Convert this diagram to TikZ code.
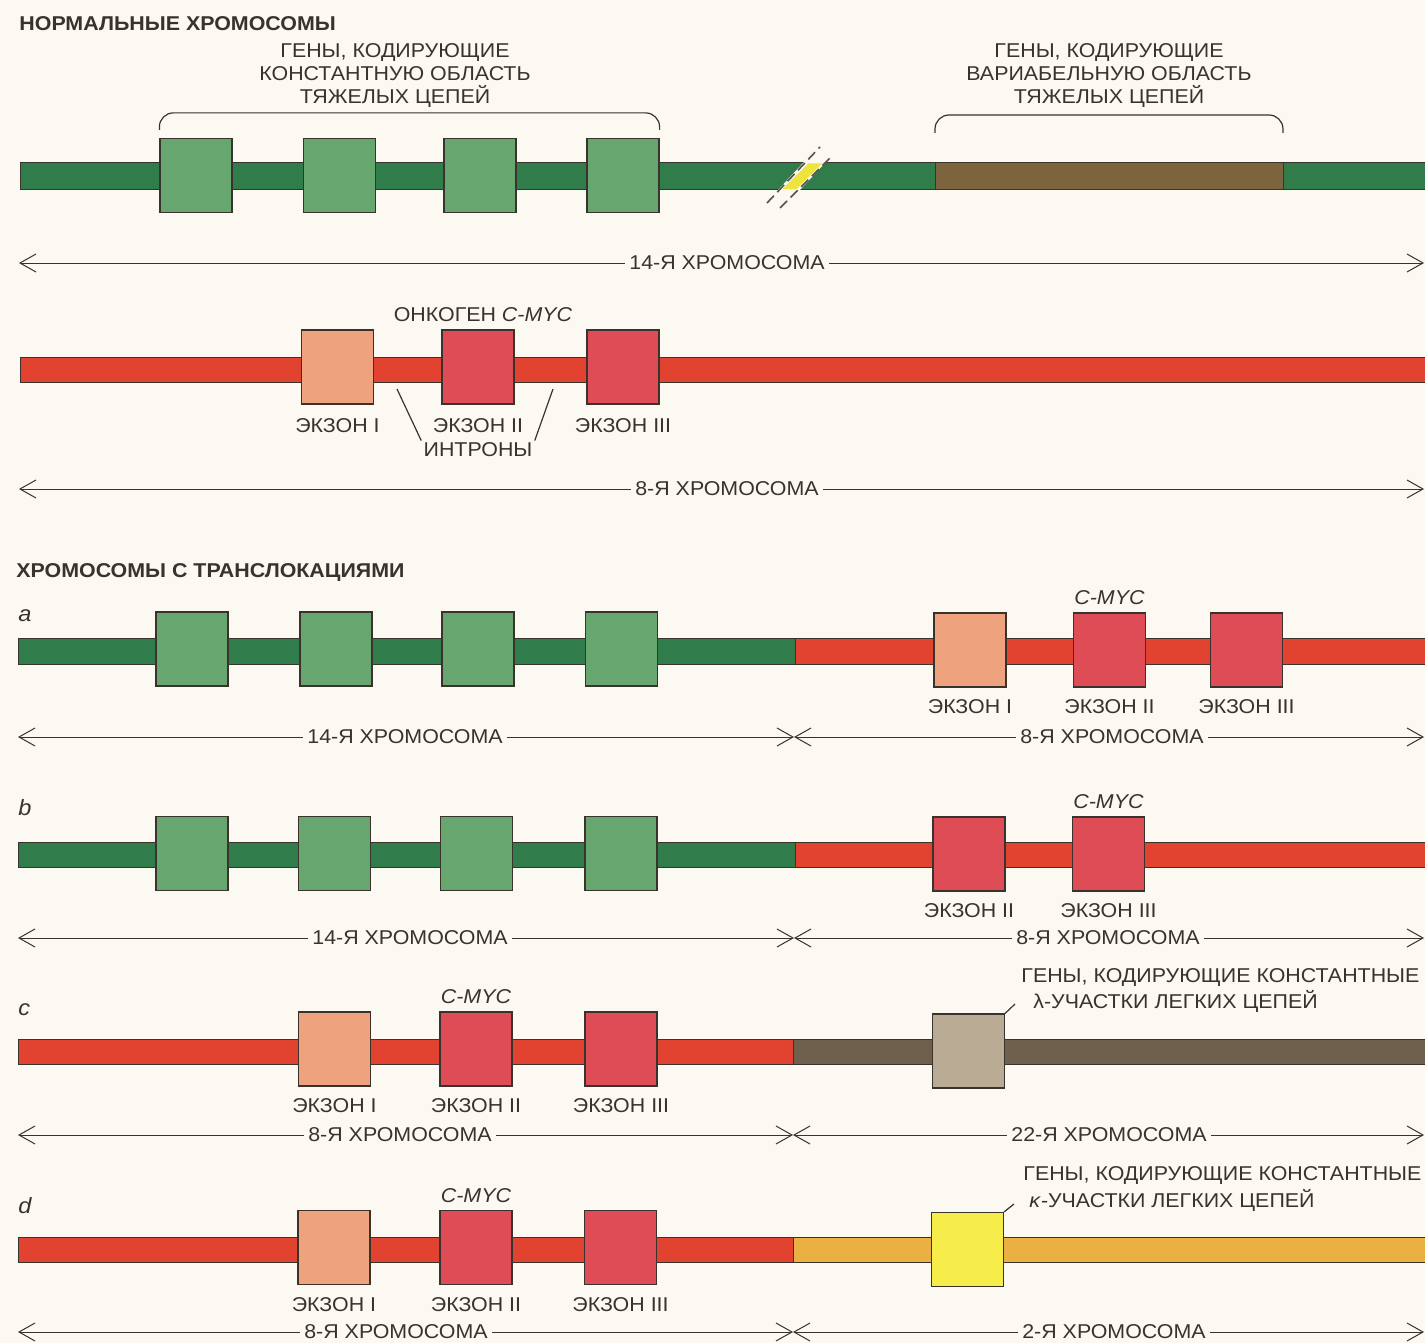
\documentclass[tikz,border=0pt]{standalone}
\usepackage{fontspec}
\setmainfont{Liberation Sans}[FakeStretch=1.07]
\usepackage{xcolor}
\usetikzlibrary{positioning,arrows.meta}

\definecolor{paper}{RGB}{251,249,242}
\definecolor{ink}{RGB}{58,50,44}
\definecolor{chrgreen}{RGB}{48,124,74}
\definecolor{exgreen}{RGB}{104,166,112}
\definecolor{chrred}{RGB}{226,66,48}
\definecolor{exsalmon}{RGB}{238,162,126}
\definecolor{exred}{RGB}{222,76,86}
\definecolor{chrbrown}{RGB}{124,100,62}
\definecolor{chrtaupe}{RGB}{110,96,76}
\definecolor{extaupe}{RGB}{186,172,148}
\definecolor{chrorange}{RGB}{234,176,66}
\definecolor{exyellow}{RGB}{246,236,74}
\definecolor{brkyellow}{RGB}{238,228,62}

\begin{document}
\begin{tikzpicture}[x=0.5pt, y=-0.5pt,
        bar/.style={draw=ink, line width=0.5pt},
        exon/.style={draw=ink, line width=0.6pt, minimum width=36pt, minimum height=37pt, inner sep=0pt},
        txt/.style={font=\fontsize{10}{11.5}\selectfont, text=ink, inner sep=1pt},
        dimlbl/.style={txt, inner xsep=2pt},
        head/.style={font=\fontsize{10}{12}\selectfont\bfseries, text=ink, anchor=base west, inner sep=0pt},
        tag/.style={font=\fontsize{11}{12}\selectfont\itshape, text=ink, anchor=base west, inner sep=0pt},
        dim/.style={-{Straight Barb[length=8pt,width=9pt]}, line width=0.5pt, ink},
        lead/.style={line width=0.6pt, ink}
    ]

    % Paper
    \fill[paper] (0,0) rectangle (1425,1343);
    \useasboundingbox (0,0) rectangle (1425,1343);

    % Titles
    \node[head] (t1) at (19,31) {НОРМАЛЬНЫЕ ХРОМОСОМЫ};
    \node[head] (t2) at (16,577) {ХРОМОСОМЫ С ТРАНСЛОКАЦИЯМИ};

    % Normal 14th chromosome
    \draw[bar, fill=chrgreen] (20,163) rectangle (1432,190);
    \draw[bar, fill=chrbrown] (935,163) rectangle (1283,190);
    \fill[paper] (777,191) -- (799,191) -- (826,162) -- (804,162) -- cycle;
    \fill[brkyellow] (782,189.5) -- (796,189.5) -- (822,163.5) -- (808,163.5) -- cycle;
    \draw[ink!85, line width=0.8pt, dash pattern=on 5pt off 2.5pt] (767,203) -- (820,147);
    \draw[ink!85, line width=0.8pt, dash pattern=on 5pt off 2.5pt] (780,208) -- (831,157);

    \node[exon, fill=exgreen] (g1) at (196,175.5) {};
    \node[exon, fill=exgreen] (g2) at (339.5,175.5) {};
    \node[exon, fill=exgreen] (g3) at (480,175.5) {};
    \node[exon, fill=exgreen] (g4) at (623,175.5) {};

    % Heavy chain braces
    \draw[lead, rounded corners=7pt] ([yshift=4pt]g1.north west) -- ([yshift=12.5pt]g1.north west)
        -- ([yshift=12.5pt]g4.north east) -- ([yshift=4pt]g4.north east);
    \node[txt, align=center] (cl) at (395,76) {ГЕНЫ, КОДИРУЮЩИЕ\\КОНСТАНТНУЮ ОБЛАСТЬ\\ТЯЖЕЛЫХ ЦЕПЕЙ};

    \coordinate (v1) at (935,163);
    \coordinate (v2) at (1283,163);
    \draw[lead, rounded corners=7pt] ([yshift=15pt]v1) -- ([yshift=24pt]v1)
        -- ([yshift=24pt]v2) -- ([yshift=15pt]v2);
    \node[txt, align=center] (vl) at (1109,76) {ГЕНЫ, КОДИРУЮЩИЕ\\ВАРИАБЕЛЬНУЮ ОБЛАСТЬ\\ТЯЖЕЛЫХ ЦЕПЕЙ};

    \node[dimlbl] (n14) at (727,263) {14-Я ХРОМОСОМА};
    \coordinate (n14l) at (19,263);
    \coordinate (n14r) at (1424,263);
    \draw[dim] (n14) -- (n14l);
    \draw[dim] (n14) -- (n14r);

    % Normal 8th chromosome
    \draw[bar, fill=chrred] (20,357) rectangle (1432,382);
    \node[exon, fill=exsalmon] (m1) at (337.5,367) {};
    \node[exon, fill=exred] (m2) at (478,367) {};
    \node[exon, fill=exred] (m3) at (623,367) {};
    \node[txt, above=2.5pt of m2, xshift=2.5pt] (onc) {ОНКОГЕН \textit{C-MYC}};
    \node[txt, below=6pt of m1] (m1l) {ЭКЗОН I};
    \node[txt, below=6pt of m2] (m2l) {ЭКЗОН II};
    \node[txt, below=6pt of m3] (m3l) {ЭКЗОН III};

    \node[txt] (intr) at (478,450) {ИНТРОНЫ};
    \coordinate (in1) at (397,389);
    \coordinate (in2) at (553,389);
    \draw[lead] (in1) -- (intr.north west);
    \draw[lead] (in2) -- (intr.north east);

    \node[dimlbl] (n8) at (727,489) {8-Я ХРОМОСОМА};
    \coordinate (n8l) at (19,489);
    \coordinate (n8r) at (1424,489);
    \draw[dim] (n8) -- (n8l);
    \draw[dim] (n8) -- (n8r);

    % Translocation a
    \node[tag] (ta) at (18,621) {a};
    \draw[bar, fill=chrgreen] (18,638) rectangle (795,664);
    \draw[bar, fill=chrred] (795,638) rectangle (1432,664);
    \node[exon, fill=exgreen] (ag1) at (192,649) {};
    \node[exon, fill=exgreen] (ag2) at (336,649) {};
    \node[exon, fill=exgreen] (ag3) at (478,649) {};
    \node[exon, fill=exgreen] (ag4) at (621.5,649) {};
    \node[exon, fill=exsalmon] (ar1) at (970,650) {};
    \node[exon, fill=exred] (ar2) at (1109.5,650) {};
    \node[exon, fill=exred] (ar3) at (1246.5,650) {};
    \node[txt, above=2.5pt of ar2] (amyc) {\textit{C-MYC}};
    \node[txt, below=5pt of ar1] (ar1l) {ЭКЗОН I};
    \node[txt, below=5pt of ar2] (ar2l) {ЭКЗОН II};
    \node[txt, below=5pt of ar3] (ar3l) {ЭКЗОН III};

    \node[dimlbl] (a14) at (405,737) {14-Я ХРОМОСОМА};
    \node[dimlbl] (a8) at (1112,737) {8-Я ХРОМОСОМА};
    \coordinate (aL) at (18,737);
    \coordinate (aM) at (794,737);
    \coordinate (aR) at (1424,737);
    \draw[dim] (a14) -- (aL);
    \draw[dim] (a14) -- (aM);
    \draw[dim] (a8) -- (aM);
    \draw[dim] (a8) -- (aR);

    % Translocation b
    \node[tag] (tb) at (18,815) {b};
    \draw[bar, fill=chrgreen] (18,842) rectangle (795,867);
    \draw[bar, fill=chrred] (795,842) rectangle (1432,867);
    \node[exon, fill=exgreen] (bg1) at (192,853.5) {};
    \node[exon, fill=exgreen] (bg2) at (334.5,853.5) {};
    \node[exon, fill=exgreen] (bg3) at (476.5,853.5) {};
    \node[exon, fill=exgreen] (bg4) at (621,853.5) {};
    \node[exon, fill=exred] (br1) at (969,854) {};
    \node[exon, fill=exred] (br2) at (1108.5,854) {};
    \node[txt, above=2.5pt of br2] (bmyc) {\textit{C-MYC}};
    \node[txt, below=5pt of br1] (br1l) {ЭКЗОН II};
    \node[txt, below=5pt of br2] (br2l) {ЭКЗОН III};

    \node[dimlbl] (b14) at (410,938) {14-Я ХРОМОСОМА};
    \node[dimlbl] (b8) at (1108,938) {8-Я ХРОМОСОМА};
    \coordinate (bL) at (18,938);
    \coordinate (bM) at (794,938);
    \coordinate (bR) at (1424,938);
    \draw[dim] (b14) -- (bL);
    \draw[dim] (b14) -- (bM);
    \draw[dim] (b8) -- (bM);
    \draw[dim] (b8) -- (bR);

    % Translocation c
    \node[tag] (tc) at (18,1015) {c};
    \draw[bar, fill=chrred] (18,1039) rectangle (793,1064);
    \draw[bar, fill=chrtaupe] (793,1039) rectangle (1432,1064);
    \node[exon, fill=exsalmon] (cr1) at (334.5,1049) {};
    \node[exon, fill=exred] (cr2) at (476,1049) {};
    \node[exon, fill=exred] (cr3) at (621,1049) {};
    \node[exon, fill=extaupe] (cb) at (968.5,1051) {};
    \node[txt, above=2.5pt of cr2] (cmyc) {\textit{C-MYC}};
    \node[txt, below=5pt of cr1] (cr1l) {ЭКЗОН I};
    \node[txt, below=5pt of cr2] (cr2l) {ЭКЗОН II};
    \node[txt, below=5pt of cr3] (cr3l) {ЭКЗОН III};

    \node[txt, align=left, anchor=north west, font=\fontsize{10}{13}\selectfont] (lam) at (1019,966)
        {ГЕНЫ, КОДИРУЮЩИЕ КОНСТАНТНЫЕ\\\hspace*{6pt}λ-УЧАСТКИ ЛЕГКИХ ЦЕПЕЙ};
    \coordinate (lamend) at (1015,1004);
    \draw[lead] (cb.north east) -- (lamend);

    \node[dimlbl] (c8) at (400,1135) {8-Я ХРОМОСОМА};
    \node[dimlbl] (c22) at (1109,1135) {22-Я ХРОМОСОМА};
    \coordinate (cL) at (18,1135);
    \coordinate (cM) at (793,1135);
    \coordinate (cR) at (1424,1135);
    \draw[dim] (c8) -- (cL);
    \draw[dim] (c8) -- (cM);
    \draw[dim] (c22) -- (cM);
    \draw[dim] (c22) -- (cR);

    % Translocation d
    \node[tag] (td) at (18,1213) {d};
    \draw[bar, fill=chrred] (18,1237) rectangle (793,1262);
    \draw[bar, fill=chrorange] (793,1237) rectangle (1432,1262);
    \node[exon, fill=exsalmon] (dr1) at (334,1247.5) {};
    \node[exon, fill=exred] (dr2) at (476,1247.5) {};
    \node[exon, fill=exred] (dr3) at (620.5,1247.5) {};
    \node[exon, fill=exyellow] (dy) at (967.5,1249.5) {};
    \node[txt, above=2.5pt of dr2] (dmyc) {\textit{C-MYC}};
    \node[txt, below=5pt of dr1] (dr1l) {ЭКЗОН I};
    \node[txt, below=5pt of dr2] (dr2l) {ЭКЗОН II};
    \node[txt, below=5pt of dr3] (dr3l) {ЭКЗОН III};

    \node[txt, align=left, anchor=north west, font=\fontsize{10}{13.5}\selectfont] (kap) at (1021,1164)
        {ГЕНЫ, КОДИРУЮЩИЕ КОНСТАНТНЫЕ\\\hspace*{3pt}\textit{κ}-УЧАСТКИ ЛЕГКИХ ЦЕПЕЙ};
    \coordinate (kapend) at (1014,1204);
    \draw[lead] (dy.north east) -- (kapend);

    \node[dimlbl] (d8) at (396,1332) {8-Я ХРОМОСОМА};
    \node[dimlbl] (d2) at (1114,1332) {2-Я ХРОМОСОМА};
    \coordinate (dL) at (18,1332);
    \coordinate (dM) at (793,1332);
    \coordinate (dR) at (1424,1332);
    \draw[dim] (d8) -- (dL);
    \draw[dim] (d8) -- (dM);
    \draw[dim] (d2) -- (dM);
    \draw[dim] (d2) -- (dR);

\end{tikzpicture}
\end{document}
